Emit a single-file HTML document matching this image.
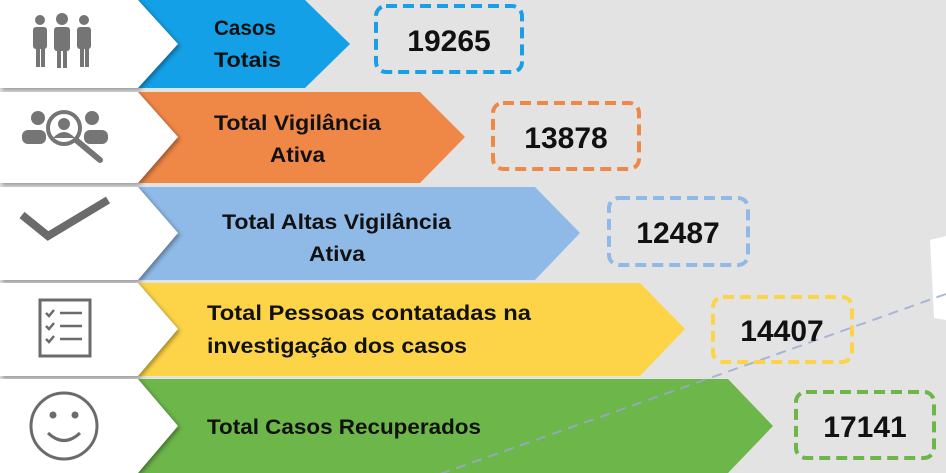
<!DOCTYPE html>
<html><head><style>
body{margin:0;background:#e3e3e3;}
svg{display:block;font-family:"Liberation Sans",sans-serif;font-weight:bold;}
</style></head><body>
<svg width="946" height="473" viewBox="0 0 946 473" xmlns="http://www.w3.org/2000/svg">
<rect width="946" height="473" fill="#e3e3e3"/>
<path d="M930 240 L946 236 L946 320 L934 318 Z" fill="#fff"/>
<polygon points="120,0 305,0 350,44 305,88 120,88" fill="#14a0e6"/>
<polygon points="120,92 420,92 465,137 420,183 120,183" fill="#ef8747"/>
<polygon points="120,187 535,187 580,233 535,280 120,280" fill="#8fb9e6"/>
<polygon points="120,283 640,283 685,329 640,376 120,376" fill="#fdd447"/>
<polygon points="120,379 728,379 773,426 728,473 120,473" fill="#6db64a"/>
<line x1="440" y1="474" x2="946" y2="294" stroke="#9aa8d8" stroke-width="2" stroke-dasharray="10 7" opacity="0.8"/>
<g fill="#fff" style="filter:drop-shadow(2px 2px 2px rgba(0,0,0,.35))">
<polygon points="0,0 138,0 178,44 138,88 0,88"/>
<polygon points="0,92 138,92 178,137 138,183 0,183"/>
<polygon points="0,187 138,187 178,233 138,280 0,280"/>
<polygon points="0,283 138,283 178,329 138,376 0,376"/>
<polygon points="0,379 138,379 178,426 138,473 0,473"/>
</g>
<g fill="#757575">
<circle cx="40" cy="20" r="5"/><circle cx="62" cy="19" r="6"/><circle cx="84" cy="20" r="5"/>
<rect x="33" y="27" width="14" height="22" rx="3"/><rect x="54" y="27" width="16" height="24" rx="3"/><rect x="77" y="27" width="14" height="22" rx="3"/>
<rect x="36" y="45" width="4" height="22"/><rect x="41" y="45" width="4" height="22"/>
<rect x="57" y="48" width="4" height="20"/><rect x="63" y="48" width="4" height="20"/>
<rect x="80" y="45" width="4" height="22"/><rect x="85" y="45" width="4" height="22"/>
<circle cx="38" cy="118" r="7"/><circle cx="92" cy="118" r="7"/>
<rect x="22" y="130" width="24" height="14" rx="6"/><rect x="84" y="130" width="24" height="14" rx="6"/>
</g>
<circle cx="64" cy="128" r="16" fill="#fff" stroke="#757575" stroke-width="4"/>
<circle cx="64" cy="124" r="6" fill="#757575"/><path d="M53 138 Q64 126 75 138 Z" fill="#757575"/>
<line x1="76" y1="140" x2="100" y2="160" stroke="#757575" stroke-width="6" stroke-linecap="round"/>
<path d="M22 215 L48 236 L108 200" fill="none" stroke="#6b6b6b" stroke-width="8"/>
<rect x="40" y="300" width="50" height="56" fill="none" stroke="#6b6b6b" stroke-width="3"/>
<g stroke="#6b6b6b" stroke-width="2.5" fill="none">
<path d="M46 313 l3 3 l5 -6"/><line x1="60" y1="313" x2="82" y2="313"/>
<path d="M46 326 l3 3 l5 -6"/><line x1="60" y1="326" x2="82" y2="326"/>
<path d="M46 339 l3 3 l5 -6"/><line x1="60" y1="339" x2="82" y2="339"/>
</g>
<circle cx="64" cy="426" r="33" fill="none" stroke="#6b6b6b" stroke-width="3"/>
<circle cx="53" cy="415" r="3.5" fill="#6b6b6b"/><circle cx="75" cy="415" r="3.5" fill="#6b6b6b"/>
<path d="M48 433 Q64 448 80 433" fill="none" stroke="#6b6b6b" stroke-width="3"/>
<g fill="#111" font-size="21">
<text x="214" y="35" textLength="62" lengthAdjust="spacingAndGlyphs">Casos</text>
<text x="214" y="67" textLength="67" lengthAdjust="spacingAndGlyphs">Totais</text>
<text x="214" y="130" textLength="167" lengthAdjust="spacingAndGlyphs">Total Vigilância</text>
<text x="270" y="162" textLength="55" lengthAdjust="spacingAndGlyphs">Ativa</text>
<text x="222" y="229" textLength="229" lengthAdjust="spacingAndGlyphs">Total Altas Vigilância</text>
<text x="309" y="261" textLength="56" lengthAdjust="spacingAndGlyphs">Ativa</text>
<text x="207" y="320" textLength="324" lengthAdjust="spacingAndGlyphs">Total Pessoas contatadas na</text>
<text x="207" y="353" textLength="260" lengthAdjust="spacingAndGlyphs">investigação dos casos</text>
<text x="207" y="434" textLength="274" lengthAdjust="spacingAndGlyphs">Total Casos Recuperados</text>
</g>
<g fill="none" stroke-width="4" stroke-dasharray="11 6">
<rect x="376" y="6" width="146" height="66" rx="10" stroke="#1a9ee4"/>
<rect x="493" y="103" width="146" height="66" rx="10" stroke="#ef8747"/>
<rect x="609" y="198" width="139" height="67" rx="10" stroke="#8fb9e6"/>
<rect x="713" y="297" width="139" height="65" rx="10" stroke="#fdd447"/>
<rect x="796" y="392" width="138" height="66" rx="10" stroke="#6db64a"/>
</g>
<g fill="#111" font-size="30" text-anchor="middle">
<text x="449" y="51">19265</text>
<text x="566" y="148">13878</text>
<text x="678" y="243">12487</text>
<text x="782" y="341">14407</text>
<text x="865" y="437">17141</text>
</g>
</svg>
</body></html>
